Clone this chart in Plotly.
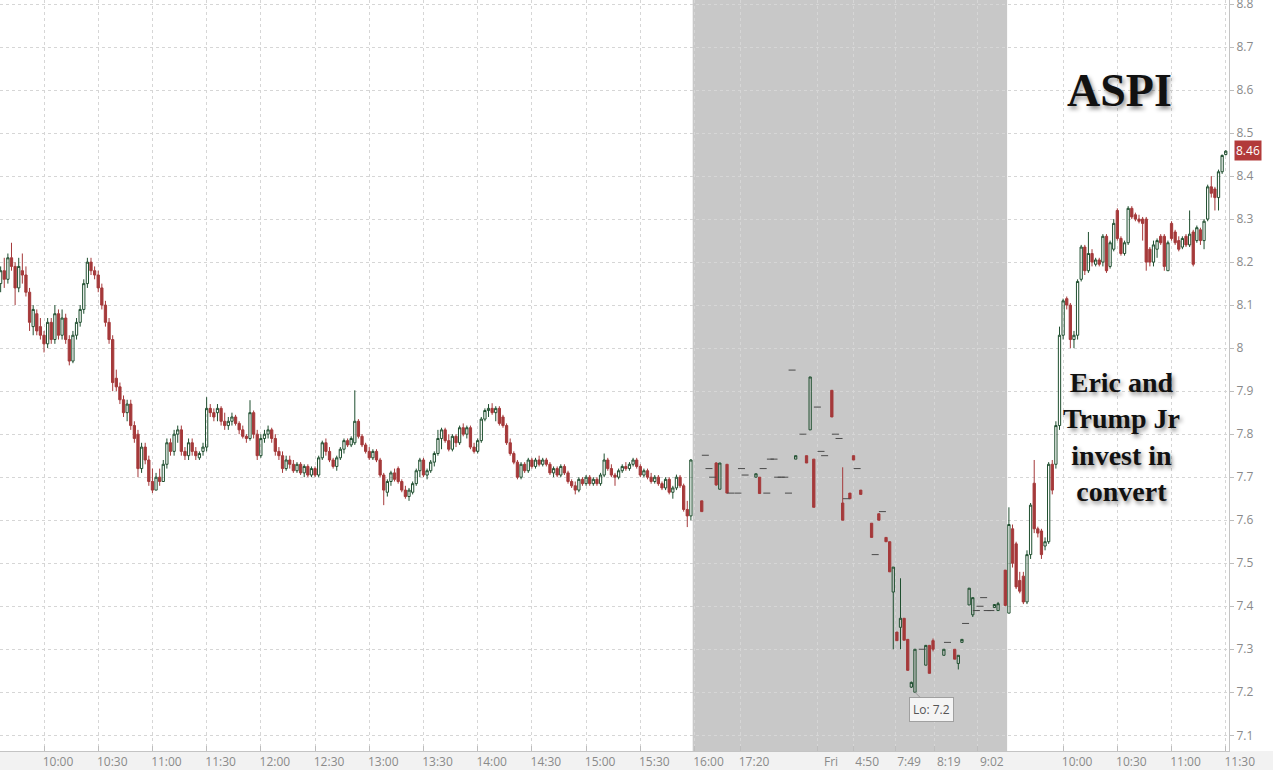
import plotly.graph_objects as go

# ---------------- DATA ----------------
# Thursday regular session: 2-minute bars, bar index counted from 09:30 (bar 3 = 09:36)
day1_start_bar = 3
day1_open = [8.15, 8.18, 8.16, 8.21, 8.19, 8.14, 8.18, 8.17, 8.13, 8.05,
             8.08, 8.05, 8.03, 8.01, 8.06, 8.02, 8.08, 8.03, 8.07, 8.02,
             7.97, 8.03, 8.06, 8.09, 8.15, 8.20, 8.18, 8.17, 8.14, 8.10,
             8.06, 8.02, 7.93, 7.91, 7.88, 7.85, 7.87, 7.82, 7.80, 7.72,
             7.77, 7.74, 7.69, 7.67, 7.70, 7.69, 7.73, 7.78, 7.76, 7.80,
             7.81, 7.76, 7.75, 7.78, 7.76, 7.745, 7.76, 7.77, 7.86, 7.85,
             7.85, 7.86, 7.83, 7.82, 7.83, 7.84, 7.825, 7.81, 7.795, 7.79,
             7.85, 7.80, 7.75, 7.79, 7.80, 7.81, 7.79, 7.76, 7.75, 7.72,
             7.74, 7.73, 7.715, 7.73, 7.71, 7.725, 7.705, 7.72, 7.705, 7.745,
             7.78, 7.76, 7.74, 7.725, 7.745, 7.765, 7.785, 7.775, 7.78, 7.83,
             7.795, 7.775, 7.76, 7.745, 7.76, 7.74, 7.705, 7.665, 7.69, 7.71,
             7.72, 7.69, 7.67, 7.655, 7.665, 7.685, 7.715, 7.74, 7.705, 7.715,
             7.735, 7.755, 7.79, 7.81, 7.785, 7.765, 7.795, 7.78, 7.815, 7.80,
             7.815, 7.77, 7.76, 7.785, 7.835, 7.855, 7.86, 7.85, 7.86, 7.84,
             7.82, 7.78, 7.755, 7.735, 7.70, 7.73, 7.715, 7.74, 7.725, 7.74,
             7.73, 7.74, 7.73, 7.71, 7.72, 7.705, 7.725, 7.71, 7.69, 7.68,
             7.67, 7.695, 7.685, 7.70, 7.685, 7.695, 7.685, 7.705, 7.74, 7.72,
             7.705, 7.70, 7.715, 7.725, 7.72, 7.73, 7.74, 7.725, 7.705, 7.715,
             7.70, 7.69, 7.70, 7.685, 7.675, 7.695, 7.665, 7.675, 7.70, 7.68,
             7.625, 7.61]
day1_high = [8.19, 8.21, 8.22, 8.245, 8.20, 8.21, 8.22, 8.19, 8.14, 8.10,
             8.09, 8.07, 8.04, 8.07, 8.07, 8.10, 8.09, 8.09, 8.08, 8.03,
             8.04, 8.07, 8.10, 8.16, 8.21, 8.21, 8.19, 8.18, 8.15, 8.11,
             8.07, 8.03, 7.95, 7.92, 7.89, 7.88, 7.88, 7.83, 7.81, 7.78,
             7.78, 7.75, 7.72, 7.71, 7.72, 7.74, 7.79, 7.79, 7.81, 7.82,
             7.82, 7.77, 7.79, 7.79, 7.77, 7.76, 7.78, 7.886, 7.87, 7.86,
             7.87, 7.865, 7.85, 7.84, 7.85, 7.845, 7.83, 7.82, 7.80, 7.879,
             7.855, 7.81, 7.80, 7.81, 7.82, 7.815, 7.80, 7.77, 7.76, 7.75,
             7.75, 7.74, 7.735, 7.735, 7.73, 7.73, 7.725, 7.725, 7.75, 7.785,
             7.79, 7.77, 7.745, 7.75, 7.77, 7.79, 7.79, 7.795, 7.902, 7.835,
             7.80, 7.78, 7.77, 7.765, 7.765, 7.745, 7.71, 7.695, 7.715, 7.72,
             7.725, 7.695, 7.68, 7.675, 7.69, 7.72, 7.745, 7.745, 7.72, 7.74,
             7.76, 7.81, 7.815, 7.815, 7.80, 7.80, 7.80, 7.82, 7.825, 7.82,
             7.82, 7.78, 7.79, 7.84, 7.86, 7.87, 7.872, 7.865, 7.865, 7.845,
             7.825, 7.79, 7.76, 7.74, 7.735, 7.735, 7.745, 7.745, 7.745, 7.75,
             7.745, 7.745, 7.735, 7.725, 7.725, 7.73, 7.73, 7.715, 7.695, 7.69,
             7.70, 7.70, 7.705, 7.705, 7.70, 7.70, 7.71, 7.755, 7.745, 7.73,
             7.71, 7.72, 7.73, 7.735, 7.735, 7.745, 7.745, 7.73, 7.72, 7.72,
             7.71, 7.705, 7.705, 7.69, 7.70, 7.70, 7.68, 7.706, 7.705, 7.685,
             7.645, 7.742]
day1_low = [8.13, 8.14, 8.15, 8.18, 8.10, 8.13, 8.15, 8.12, 8.04, 8.03,
            8.03, 8.02, 7.99, 8.00, 8.01, 8.01, 8.02, 8.02, 8.01, 7.96,
            7.965, 8.02, 8.05, 8.08, 8.14, 8.17, 8.16, 8.13, 8.09, 8.05,
            8.01, 7.90, 7.90, 7.87, 7.84, 7.83, 7.81, 7.78, 7.70, 7.71,
            7.73, 7.68, 7.663, 7.67, 7.68, 7.69, 7.72, 7.75, 7.75, 7.78,
            7.75, 7.74, 7.74, 7.75, 7.74, 7.74, 7.75, 7.76, 7.84, 7.83,
            7.83, 7.82, 7.81, 7.81, 7.82, 7.82, 7.80, 7.79, 7.78, 7.785,
            7.79, 7.74, 7.745, 7.78, 7.79, 7.78, 7.75, 7.74, 7.71, 7.715,
            7.72, 7.71, 7.71, 7.705, 7.70, 7.70, 7.70, 7.70, 7.70, 7.74,
            7.75, 7.735, 7.72, 7.715, 7.74, 7.755, 7.77, 7.77, 7.775, 7.79,
            7.77, 7.755, 7.74, 7.74, 7.735, 7.70, 7.635, 7.655, 7.68, 7.69,
            7.685, 7.665, 7.65, 7.645, 7.66, 7.68, 7.70, 7.70, 7.695, 7.71,
            7.725, 7.75, 7.765, 7.78, 7.76, 7.76, 7.77, 7.775, 7.795, 7.79,
            7.765, 7.755, 7.755, 7.78, 7.83, 7.84, 7.845, 7.83, 7.82, 7.815,
            7.775, 7.75, 7.73, 7.695, 7.695, 7.71, 7.71, 7.72, 7.72, 7.725,
            7.725, 7.725, 7.705, 7.70, 7.70, 7.70, 7.705, 7.685, 7.675, 7.66,
            7.665, 7.68, 7.68, 7.68, 7.68, 7.68, 7.68, 7.70, 7.715, 7.70,
            7.68, 7.695, 7.71, 7.715, 7.715, 7.725, 7.72, 7.70, 7.70, 7.695,
            7.685, 7.685, 7.68, 7.67, 7.67, 7.66, 7.65, 7.67, 7.675, 7.62,
            7.584, 7.60]
day1_close = [8.18, 8.16, 8.21, 8.19, 8.14, 8.19, 8.17, 8.13, 8.06, 8.09,
              8.04, 8.03, 8.01, 8.06, 8.02, 8.08, 8.03, 8.07, 8.02, 7.97,
              8.03, 8.06, 8.09, 8.15, 8.20, 8.18, 8.17, 8.14, 8.10, 8.06,
              8.02, 7.92, 7.91, 7.88, 7.85, 7.87, 7.82, 7.79, 7.72, 7.77,
              7.74, 7.69, 7.67, 7.70, 7.69, 7.73, 7.78, 7.76, 7.80, 7.81,
              7.76, 7.75, 7.78, 7.76, 7.75, 7.755, 7.77, 7.86, 7.85, 7.84,
              7.86, 7.83, 7.82, 7.83, 7.84, 7.825, 7.81, 7.795, 7.79, 7.85,
              7.80, 7.75, 7.79, 7.80, 7.81, 7.79, 7.76, 7.75, 7.72, 7.74,
              7.73, 7.715, 7.73, 7.71, 7.725, 7.705, 7.72, 7.705, 7.745, 7.78,
              7.76, 7.74, 7.725, 7.745, 7.765, 7.785, 7.775, 7.79, 7.83, 7.795,
              7.775, 7.76, 7.745, 7.76, 7.74, 7.705, 7.67, 7.69, 7.71, 7.695,
              7.69, 7.67, 7.655, 7.67, 7.685, 7.715, 7.74, 7.705, 7.715, 7.735,
              7.755, 7.79, 7.81, 7.785, 7.765, 7.795, 7.78, 7.815, 7.80, 7.815,
              7.77, 7.76, 7.785, 7.835, 7.855, 7.86, 7.85, 7.86, 7.825, 7.82,
              7.78, 7.755, 7.735, 7.70, 7.73, 7.715, 7.74, 7.725, 7.74, 7.73,
              7.74, 7.73, 7.71, 7.72, 7.705, 7.725, 7.71, 7.69, 7.68, 7.67,
              7.695, 7.685, 7.70, 7.685, 7.695, 7.685, 7.705, 7.74, 7.72, 7.705,
              7.70, 7.715, 7.725, 7.72, 7.73, 7.74, 7.725, 7.705, 7.715, 7.70,
              7.69, 7.70, 7.685, 7.675, 7.695, 7.665, 7.675, 7.70, 7.68, 7.625,
              7.61, 7.74]

# Extended hours (shaded) - sparse bars on the compressed bar index
ext_bar = [197, 201, 202, 204, 212, 213, 223, 226, 227, 228, 233, 236, 238, 239,
           241, 244, 246, 248, 249, 250, 251, 252, 253, 254, 255, 256, 259, 260,
           261, 264, 267, 268, 269, 271, 272, 278, 279, 281]
ext_open = [7.645, 7.733, 7.672, 7.73, 7.70, 7.70, 7.742, 7.75, 7.81, 7.742, 7.902, 7.64, 7.663, 7.75,
            7.67, 7.593, 7.615, 7.56, 7.55, 7.433, 7.34, 7.351, 7.372, 7.323, 7.212, 7.20, 7.263, 7.309,
            7.32, 7.286, 7.30, 7.267, 7.316, 7.403, 7.38, 7.397, 7.39, 7.484]
ext_high = [7.645, 7.735, 7.733, 7.73, 7.708, 7.70, 7.75, 7.75, 7.933, 7.742, 7.902, 7.723, 7.663, 7.75,
            7.67, 7.593, 7.615, 7.56, 7.55, 7.491, 7.34, 7.465, 7.372, 7.323, 7.225, 7.30, 7.31, 7.31,
            7.325, 7.30, 7.30, 7.286, 7.323, 7.442, 7.42, 7.405, 7.41, 7.484]
ext_low = [7.62, 7.68, 7.672, 7.663, 7.70, 7.662, 7.742, 7.733, 7.81, 7.63, 7.84, 7.60, 7.65, 7.74,
           7.66, 7.56, 7.60, 7.55, 7.48, 7.30, 7.32, 7.30, 7.321, 7.25, 7.21, 7.20, 7.263, 7.244,
           7.295, 7.286, 7.277, 7.253, 7.316, 7.403, 7.375, 7.397, 7.39, 7.40]
ext_close = [7.62, 7.682, 7.733, 7.663, 7.708, 7.662, 7.75, 7.733, 7.933, 7.63, 7.84, 7.60, 7.65, 7.74,
             7.66, 7.56, 7.60, 7.55, 7.48, 7.491, 7.32, 7.372, 7.321, 7.251, 7.223, 7.30, 7.309, 7.244,
             7.30, 7.30, 7.277, 7.286, 7.323, 7.442, 7.42, 7.404, 7.406, 7.402]
# single-price trades in extended hours
ext_trade_bar = [198, 199, 200, 205, 207, 208, 209, 214, 215, 216, 217, 218, 219, 220, 221, 222,
                 225, 229, 230, 231, 234, 235, 237, 240, 245, 247, 258, 265, 270, 273, 274, 275, 276, 277]
ext_trade_price = [7.751, 7.72, 7.70, 7.663, 7.663, 7.72, 7.705, 7.72, 7.663, 7.742, 7.742, 7.70, 7.70, 7.70,
                   7.663, 7.949, 7.80, 7.863, 7.76, 7.75, 7.80, 7.79, 7.65, 7.72, 7.52, 7.62, 7.30, 7.316,
                   7.36, 7.39, 7.40, 7.42, 7.39, 7.39]

# Friday regular session: 2-minute bars from 09:30
day2_start_bar = 282
day2_open = [7.384, 7.58, 7.545, 7.46, 7.47, 7.41, 7.52, 7.686, 7.58, 7.575,
             7.54, 7.55, 7.73, 7.73, 7.82, 8.03, 8.115, 8.10, 8.02, 8.03,
             8.16, 8.235, 8.18, 8.22, 8.195, 8.205, 8.20, 8.26, 8.19, 8.23,
             8.32, 8.255, 8.22, 8.245, 8.325, 8.31, 8.30, 8.30, 8.30, 8.23,
             8.20, 8.23, 8.26, 8.26, 8.18, 8.29, 8.27, 8.25, 8.235, 8.26,
             8.24, 8.27, 8.25, 8.275, 8.25, 8.30, 8.375, 8.37, 8.35, 8.41,
             8.45]
day2_high = [7.63, 7.59, 7.55, 7.48, 7.48, 7.53, 7.64, 7.74, 7.585, 7.58,
             7.56, 7.735, 7.74, 7.83, 8.05, 8.115, 8.12, 8.105, 8.04, 8.16,
             8.24, 8.24, 8.27, 8.23, 8.21, 8.21, 8.265, 8.265, 8.25, 8.30,
             8.325, 8.26, 8.25, 8.33, 8.33, 8.315, 8.31, 8.305, 8.305, 8.235,
             8.25, 8.255, 8.265, 8.265, 8.25, 8.295, 8.275, 8.26, 8.26, 8.265,
             8.32, 8.275, 8.285, 8.28, 8.30, 8.38, 8.40, 8.375, 8.415, 8.45,
             8.46]
day2_low = [7.384, 7.49, 7.44, 7.43, 7.405, 7.405, 7.51, 7.57, 7.56, 7.51,
            7.53, 7.545, 7.66, 7.72, 7.81, 8.02, 8.09, 8.00, 8.00, 8.02,
            8.155, 8.17, 8.175, 8.19, 8.19, 8.19, 8.19, 8.175, 8.185, 8.225,
            8.25, 8.215, 8.215, 8.24, 8.30, 8.295, 8.29, 8.25, 8.18, 8.19,
            8.19, 8.21, 8.24, 8.18, 8.18, 8.25, 8.24, 8.225, 8.23, 8.235,
            8.235, 8.19, 8.245, 8.24, 8.23, 8.295, 8.35, 8.32, 8.32, 8.405,
            8.448]
day2_close = [7.59, 7.50, 7.445, 7.435, 7.41, 7.52, 7.635, 7.58, 7.57, 7.52,
              7.55, 7.73, 7.67, 7.82, 8.03, 8.11, 8.10, 8.02, 8.03, 8.155,
              8.235, 8.18, 8.22, 8.20, 8.205, 8.195, 8.26, 8.18, 8.245, 8.29,
              8.255, 8.22, 8.245, 8.325, 8.305, 8.30, 8.295, 8.29, 8.20, 8.20,
              8.24, 8.25, 8.245, 8.19, 8.245, 8.255, 8.245, 8.23, 8.255, 8.24,
              8.265, 8.195, 8.28, 8.25, 8.295, 8.375, 8.36, 8.35, 8.41, 8.448,
              8.458]

# x-axis ticks (bar index) and their labels
tick_bars = [15, 30, 45, 60, 75, 90, 105, 120, 135, 150, 165, 180, 195,
             207.6, 228.9, 238.9, 250.5, 261.5, 273.4,
             297, 312, 327, 342]
tick_labels = ["10:00", "10:30", "11:00", "11:30", "12:00", "12:30", "13:00", "13:30",
               "14:00", "14:30", "15:00", "15:30", "16:00",
               "17:20", "Fri", "4:50", "7:49", "8:19", "9:02",
               "10:00", "10:30", "11:00", "11:30"]
ext_session = [194.5, 281.5]   # shaded extended-hours window (bar index)
x_range = [2.82, 342.9]
y_range = [7.0635, 8.8093]
last_price = 8.46
low_price = 7.2
low_bar = 256

# ---------------- FIGURE ----------------
d1_x = list(range(day1_start_bar, day1_start_bar + len(day1_open)))
d2_x = list(range(day2_start_bar, day2_start_bar + len(day2_open)))

GREEN = "#1f4f2f"
RED = "#a5393a"

fig = go.Figure()
fig.add_trace(go.Candlestick(
    x=d1_x + ext_bar + d2_x,
    open=day1_open + ext_open + day2_open,
    high=day1_high + ext_high + day2_high,
    low=day1_low + ext_low + day2_low,
    close=day1_close + ext_close + day2_close,
    increasing=dict(line=dict(color=GREEN, width=1), fillcolor="rgba(255,255,255,0)"),
    decreasing=dict(line=dict(color=RED, width=1), fillcolor=RED),
    whiskerwidth=0,
    showlegend=False,
    hoverinfo="skip",
))
fig.add_trace(go.Scatter(
    x=ext_trade_bar, y=ext_trade_price, mode="markers",
    marker=dict(symbol="line-ew", size=5, line=dict(color="#4a4a4a", width=1)),
    showlegend=False, hoverinfo="skip",
))

fig.add_shape(type="rect", xref="x", yref="paper", x0=ext_session[0], x1=ext_session[1],
              y0=0, y1=1, fillcolor="#c8c8c8", line=dict(width=0), layer="below")
fig.add_shape(type="rect", xref="paper", yref="paper", x0=0, x1=1.04, y0=-0.03, y1=0,
              fillcolor="#f2f2f2", line=dict(width=0), layer="below")

fig.add_annotation(xref="paper", yref="y", x=1, y=last_price, xanchor="left", xshift=5,
                   text=f"{last_price:.2f}", showarrow=False, bgcolor="#b23a3a",
                   font=dict(family="Open Sans", size=12, color="white"), borderpad=1)
fig.add_annotation(x=low_bar, y=low_price, text=f"Lo: {low_price}", showarrow=True,
                   arrowhead=0, arrowwidth=1, arrowcolor="#9a9a9a", ax=17, ay=17,
                   bgcolor="#f4f4f4", bordercolor="#a0a0a0", borderwidth=1, borderpad=3,
                   font=dict(family="Open Sans", size=12, color="#555555"))
fig.add_annotation(xref="paper", yref="paper", x=0.911, y=0.879, text="ASPI", showarrow=False,
                   xanchor="center", yanchor="middle",
                   font=dict(family="Liberation Serif", size=46, color="#111111", weight="bold",
                             shadow="2px 3px 4px rgba(0,0,0,0.45)"))
fig.add_annotation(xref="paper", yref="paper", x=0.9125, y=0.4175,
                   text="Eric and<br>Trump Jr<br>invest in<br>convert", showarrow=False,
                   xanchor="center", yanchor="middle", align="center",
                   font=dict(family="Liberation Serif", size=28, color="#111111", weight="bold",
                             shadow="2px 3px 4px rgba(0,0,0,0.45)"))

fig.update_layout(
    width=1273, height=770,
    margin=dict(l=0, r=44, t=0, b=19, autoexpand=False),
    paper_bgcolor="white", plot_bgcolor="white",
    showlegend=False, boxgap=0.1,
    font=dict(family="Open Sans", size=12, color="#8a8a8a"),
)
fig.update_xaxes(
    automargin=False,
    range=x_range, tickmode="array", tickvals=tick_bars, ticktext=tick_labels,
    ticks="inside", ticklen=5, tickcolor="#bdbdbd", ticklabelshift=14,
    showline=True, linecolor="#c4c4c4", linewidth=1,
    showgrid=True, gridcolor="#d6d6d6", griddash="dot", gridwidth=1,
    zeroline=False, rangeslider=dict(visible=False),
    tickfont=dict(family="Open Sans", size=12, color="#8a8a8a"),
)
fig.update_yaxes(
    automargin=False,
    side="right", range=y_range, tick0=7.1, dtick=0.1,
    ticks="outside", ticklen=4, tickcolor="#bdbdbd", ticklabeloverflow="allow",
    showline=True, linecolor="#c4c4c4", linewidth=1,
    showgrid=True, gridcolor="#d6d6d6", griddash="dot", gridwidth=1,
    zeroline=False,
    tickfont=dict(family="Open Sans", size=12, color="#8a8a8a"),
)

fig.write_html("out.html", config={"displayModeBar": False},
               post_script="document.body.style.margin='0px';document.body.style.overflow='hidden';")
